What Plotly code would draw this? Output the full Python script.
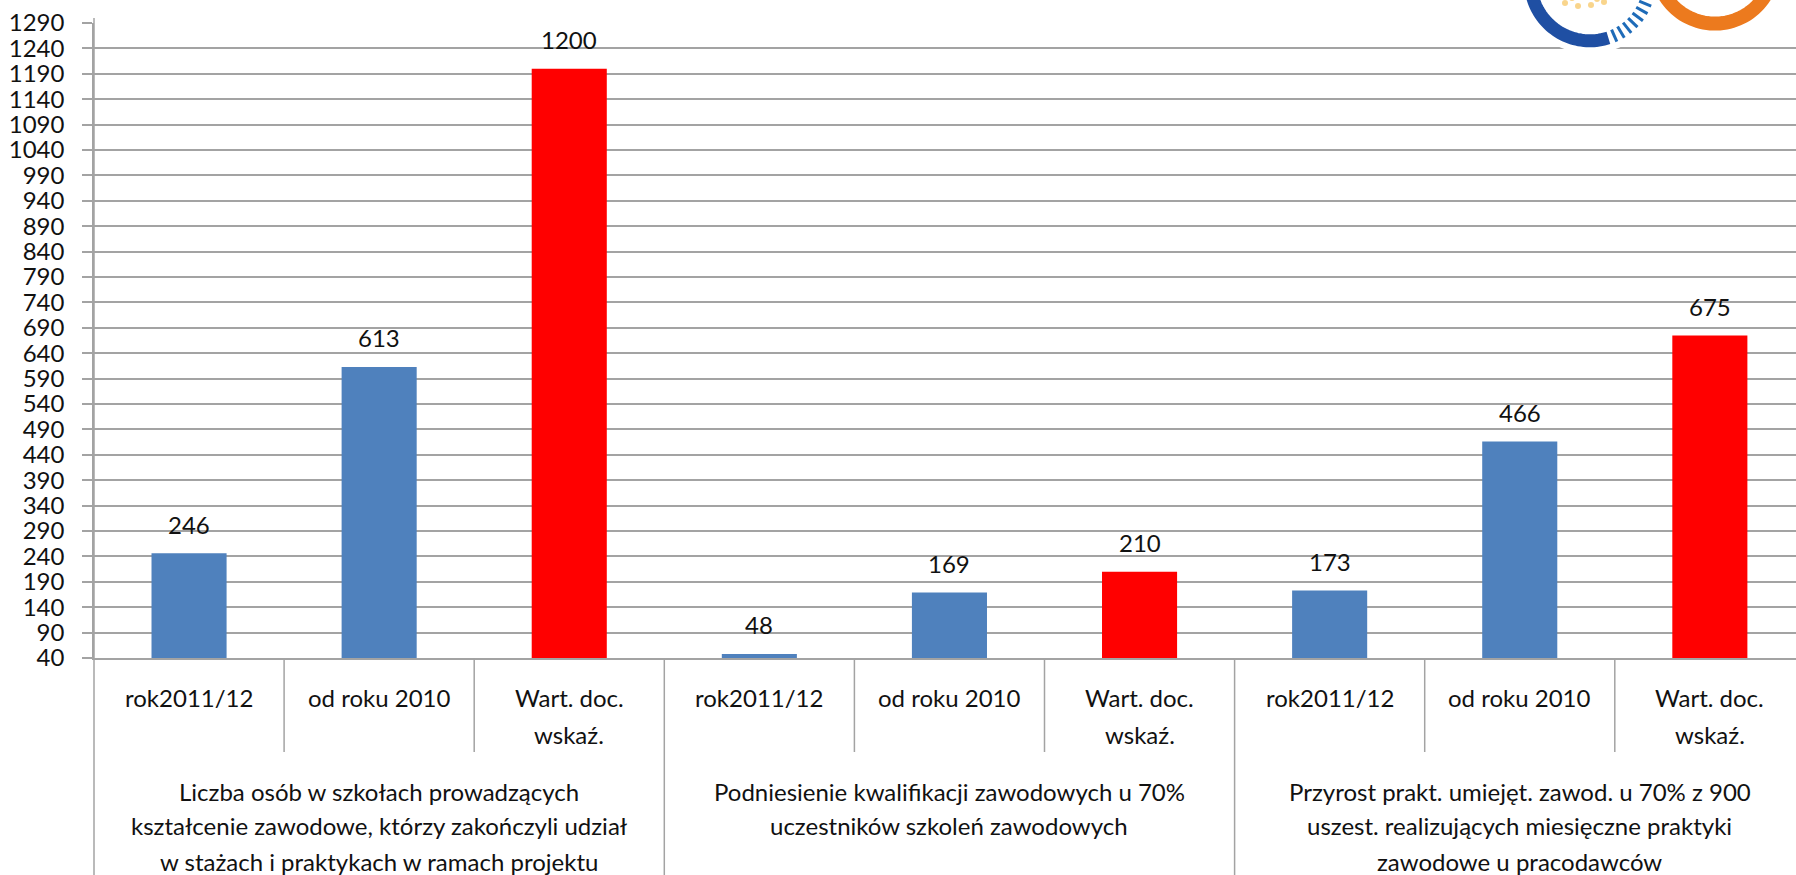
import numpy as np
import plotly.graph_objects as go

# ---------------- data ----------------
group_labels = [
    "Liczba osób w szkołach prowadzących<br>kształcenie zawodowe, którzy zakończyli udział<br>w stażach i praktykach w ramach projektu",
    "Podniesienie kwalifikacji zawodowych u 70%<br>uczestników szkoleń zawodowych",
    "Przyrost prakt. umiejęt. zawod. u 70% z 900<br>uszest. realizujących miesięczne praktyki<br>zawodowe u pracodawców",
]
inner_labels = ["rok2011/12", "od roku 2010", "Wart. doc.<br>wskaź."]
values = [246, 613, 1200, 48, 169, 210, 173, 466, 675]
kinds = ["actual", "actual", "target", "actual", "actual", "target", "actual", "actual", "target"]
y_min, y_max, y_step = 40, 1290, 50

# ---------------- layout constants ----------------
W_FIG, H_FIG = 1796, 875
L, T, B = 94, 23, 217
PW = W_FIG - L
PH = H_FIG - T - B
CAT_W = 190.1
x_lo = -0.5
x_hi = x_lo + PW / CAT_W
FONT = "Lato, 'Open Sans', sans-serif"
FS = 24
TXT = "#111111"
GRID = "#a3a3a3"
colors = {"actual": "#4F81BD", "target": "#FF0000"}

n_inner = len(inner_labels)
n = len(values)
xs = list(range(n))


def px_x(px):
    return (px - L) / PW


def px_y(py):
    return (T + PH - py) / PH


def data_to_paper_x(xv):
    return (xv - x_lo) / (x_hi - x_lo)


fig = go.Figure()
fig.add_trace(go.Bar(
    x=xs, y=values, width=0.395,
    marker=dict(color=[colors[k] for k in kinds], line=dict(width=0)),
    hoverinfo="y", showlegend=False,
))

annotations = []
# value labels above bars
for xv, v in zip(xs, values):
    annotations.append(dict(x=xv, y=v, xref="x", yref="y", text=str(v), showarrow=False,
                            yshift=29, yanchor="middle", font=dict(family=FONT, size=FS, color=TXT)))

# inner category labels
for i in range(n):
    lines = inner_labels[i % n_inner].split("<br>")
    for k, ln in enumerate(lines):
        annotations.append(dict(x=i, y=px_y(698 + 36 * k), xref="x", yref="paper", text=ln,
                                showarrow=False, yanchor="middle", xanchor="center",
                                font=dict(family=FONT, size=FS, color=TXT)))

# group labels
for g, lab in enumerate(group_labels):
    xc = g * n_inner + (n_inner - 1) / 2
    for k, ln in enumerate(lab.split("<br>")):
        annotations.append(dict(x=xc, y=px_y(791 + 35 * k), xref="x", yref="paper", text=ln,
                                showarrow=False, yanchor="middle", xanchor="center",
                                font=dict(family=FONT, size=FS, color=TXT)))

shapes = []
# inner dividers
for i in range(n - 1):
    xp = data_to_paper_x(i + 0.5)
    if (i + 1) % n_inner == 0:
        y1 = px_y(H_FIG)
    else:
        y1 = px_y(752)
    shapes.append(dict(type="line", xref="paper", yref="paper", x0=xp, x1=xp, y0=0, y1=y1,
                       line=dict(color=GRID, width=1.5)))
# left border extended
shapes.append(dict(type="line", xref="paper", yref="paper", x0=0, x1=0, y0=px_y(18), y1=px_y(H_FIG),
                   line=dict(color=GRID, width=1.5)))


# logo (decorative arcs, top right)
def arc_path(cx, cy, r, t0, t1, npts=40):
    ts = np.radians(np.linspace(t0, t1, npts))
    pts = [(px_x(cx + r * np.cos(t)), px_y(cy + r * np.sin(t))) for t in ts]
    return "M " + " L ".join(f"{a:.5f},{b:.5f}" for a, b in pts)


# white halos
shapes.append(dict(type="path", xref="paper", yref="paper", layer="above",
                   path=arc_path(1590, -18.7, 59.5, 175, 5), line=dict(color="white", width=26)))
shapes.append(dict(type="path", xref="paper", yref="paper", layer="above",
                   path=arc_path(1715, -35.4, 59, 175, 5), line=dict(color="white", width=26)))
# blue solid arc
shapes.append(dict(type="path", xref="paper", yref="paper", layer="above",
                   path=arc_path(1590, -18.7, 59.5, 165, 72), line=dict(color="#1F4FA3", width=13)))
# blue stripes
for t in np.linspace(66, 22, 7):
    tr = np.radians(t)
    r0, r1 = 53, 66
    cx, cy = 1590, -18.7
    p = (f"M {px_x(cx + r0*np.cos(tr)):.5f},{px_y(cy + r0*np.sin(tr)):.5f} "
         f"L {px_x(cx + r1*np.cos(tr)):.5f},{px_y(cy + r1*np.sin(tr)):.5f}")
    shapes.append(dict(type="path", xref="paper", yref="paper", layer="above", path=p,
                       line=dict(color="#1E6BB8", width=3)))
# small yellow dots inside blue ring
for (dx, dy) in [(1565, 3), (1578, 6), (1591, 5), (1604, 2), (1572, -2), (1597, -1)]:
    shapes.append(dict(type="circle", xref="paper", yref="paper", layer="above",
                       x0=px_x(dx - 3), x1=px_x(dx + 3), y0=px_y(dy + 3), y1=px_y(dy - 3),
                       fillcolor="#F6C35B", line=dict(width=0), opacity=0.7))
# orange arc
shapes.append(dict(type="path", xref="paper", yref="paper", layer="above",
                   path=arc_path(1715, -35.4, 59, 150, 30), line=dict(color="#EC7A1E", width=14)))

fig.update_layout(
    width=W_FIG, height=H_FIG,
    margin=dict(l=L, r=0, t=T, b=B, pad=0),
    paper_bgcolor="white", plot_bgcolor="white",
    bargap=0.6,
    xaxis=dict(range=[x_lo, x_hi], showticklabels=False, showgrid=False, zeroline=False,
               showline=True, linecolor=GRID, linewidth=1.5, ticks="", fixedrange=True),
    yaxis=dict(range=[y_min, y_max], tick0=y_min, dtick=y_step, showgrid=True, gridcolor=GRID,
               gridwidth=1.5, zeroline=False, showline=True, linecolor=GRID, linewidth=1.5,
               ticks="outside", ticklen=10, tickcolor=GRID, tickwidth=1.5,
               ticklabelstandoff=13,
               tickfont=dict(family=FONT, size=FS, color=TXT), fixedrange=True),
    annotations=annotations,
    shapes=shapes,
    font=dict(family=FONT, size=FS, color=TXT),
)

fig.write_html("out.html", config={"displayModeBar": False},
               post_script="document.body.style.margin='0';document.body.style.overflow='hidden';")
